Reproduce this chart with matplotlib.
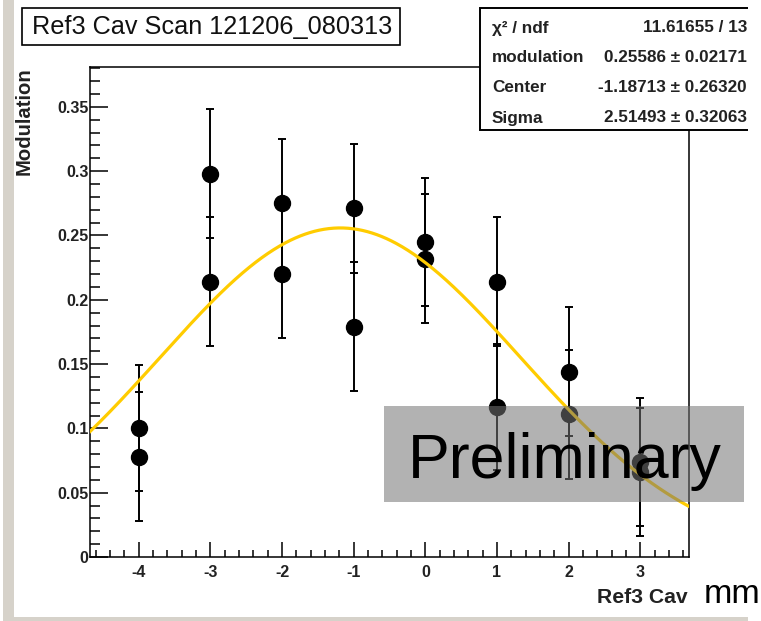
import numpy as np
import matplotlib
matplotlib.use("Agg")
import matplotlib.pyplot as plt
from matplotlib.patches import Rectangle
from matplotlib.ticker import MultipleLocator

plt.rcParams['font.family'] = ['Liberation Sans', 'DejaVu Sans']

# Measured modulation at each Ref3 cavity position (two runs per position)
positions = [-4, -4, -3, -3, -2, -2, -1, -1, 0, 0, 1, 1, 2, 2, 3, 3]
modulation = [0.100, 0.078, 0.298, 0.214, 0.275, 0.220, 0.271, 0.179,
              0.245, 0.232, 0.214, 0.117, 0.144, 0.111, 0.074, 0.066]
mod_err = [0.049, 0.050, 0.050, 0.050, 0.050, 0.050, 0.050, 0.050,
           0.050, 0.050, 0.050, 0.049, 0.050, 0.050, 0.050, 0.050]

# Gaussian fit results
fit_names = ["modulation", "Center", "Sigma"]
fit_values = [0.25586, -1.18713, 2.51493]
fit_errors = [0.02171, 0.26320, 0.32063]
chi2, ndf = 11.61655, 13

xticks = [-4, -3, -2, -1, 0, 1, 2, 3]
yticks = [0, 0.05, 0.1, 0.15, 0.2, 0.25, 0.3, 0.35]
ytick_labels = ["0", "0.05", "0.1", "0.15", "0.2", "0.25", "0.3", "0.35"]

W, H = 761, 621
fig = plt.figure(figsize=(W / 100, H / 100), dpi=100)


def fx(px):
    return px / W


def fy(py):
    return 1 - py / H


def fig_rect(x0, y0, x1, y1, **kw):
    r = Rectangle((fx(x0), fy(y1)), fx(x1) - fx(x0), fy(y0) - fy(y1),
                  transform=fig.transFigure, **kw)
    fig.patches.append(r)
    return r


# canvas frame (left and bottom strips)
frame_col = (214 / 255, 210 / 255, 202 / 255)
fig_rect(3, 0, 14, 617, facecolor=frame_col, edgecolor='none', zorder=1)
fig_rect(3, 617, 748, 621, facecolor=frame_col, edgecolor='none', zorder=1)

ax_l, ax_r, ax_t, ax_b = 90, 689, 67, 557
ax = fig.add_axes([fx(ax_l), fy(ax_b), fx(ax_r) - fx(ax_l), fy(ax_t) - fy(ax_b)])
xmin, xmax = -4.68, 3.68
ymin, ymax = 0.0, 0.381
ax.set_xlim(xmin, xmax)
ax.set_ylim(ymin, ymax)

ax.errorbar(positions, modulation, yerr=mod_err, fmt='o', color='black',
            ms=11.5, capsize=3.0, elinewidth=1.4, capthick=1.4, zorder=3)

amp, mu, sig = fit_values
xf = np.linspace(xmin, xmax, 500)
ax.plot(xf, amp * np.exp(-0.5 * ((xf - mu) / sig) ** 2), color='#ffcc00',
        lw=2.3, zorder=4)

for s in ax.spines.values():
    s.set_linewidth(1.1)
    s.set_color('black')

ax.set_xticks(xticks)
ax.set_xticklabels([str(t) for t in xticks])
ax.set_yticks(yticks)
ax.set_yticklabels(ytick_labels)
ax.xaxis.set_minor_locator(MultipleLocator(0.2))
ax.yaxis.set_minor_locator(MultipleLocator(0.01))
ax.tick_params(axis='x', which='major', direction='in', length=10.8, width=1.1,
               pad=6, labelsize=11.5)
ax.tick_params(axis='x', which='minor', direction='in', length=5.0, width=1.1)
ax.tick_params(axis='y', which='major', direction='in', length=13, width=1.1,
               pad=1, labelsize=11.5)
ax.tick_params(axis='y', which='minor', direction='in', length=7.2, width=1.1)
for lab in ax.get_xticklabels() + ax.get_yticklabels():
    lab.set_fontweight('bold')
    lab.set_color('#222222')

# axis titles
fig.text(fx(688), fy(603), "Ref3 Cav", ha='right', va='baseline',
         fontsize=15.2, fontweight='bold', color='#222222')
fig.text(fx(24), fy(67), "Modulation", rotation=90, ha='center', va='top',
         fontsize=14.6, fontweight='bold', color='#222222')

# title box
fig_rect(22, 8, 400, 45, facecolor='white', edgecolor='black', lw=1.2, zorder=5)
fig.text(fx(212), fy(27), "Ref3 Cav Scan 121206_080313", ha='center',
         va='center', fontsize=18.2, color='#111111', zorder=6)

# fit statistics box
fig_rect(480, 8, 790, 130, facecolor='white', edgecolor='black', lw=1.4, zorder=5)
rows_y = [28, 58, 88, 118]
labels = ["χ² / ndf"] + fit_names
values = [f"{chi2:.5f} / {ndf}"] + [f"{v:.5f} ± {e:.5f}" for v, e in zip(fit_values, fit_errors)]
for yy, lab, val in zip(rows_y, labels, values):
    fig.text(fx(492), fy(yy), lab, ha='left', va='center', fontsize=12.3,
             fontweight='bold', color='#222222', zorder=6)
    fig.text(fx(747), fy(yy), val, ha='right', va='center', fontsize=12.3,
             fontweight='bold', color='#222222', zorder=6)

# blank strip on the far right
fig_rect(748, 0, 762, 622, facecolor='white', edgecolor='none', zorder=7)

# "Preliminary" overlay
fig_rect(384, 406, 744, 502, facecolor=(116 / 255, 116 / 255, 116 / 255),
         alpha=0.553, edgecolor='none', zorder=8)
fig.text(fx(565), fy(478), "Preliminary", ha='center', va='baseline',
         fontsize=45.2, color='black', zorder=9)

fig.text(fx(704), fy(603), "mm", ha='left', va='baseline', fontsize=24.5,
         color='black', zorder=9)

fig.savefig("out.png", dpi=100, facecolor='white')
